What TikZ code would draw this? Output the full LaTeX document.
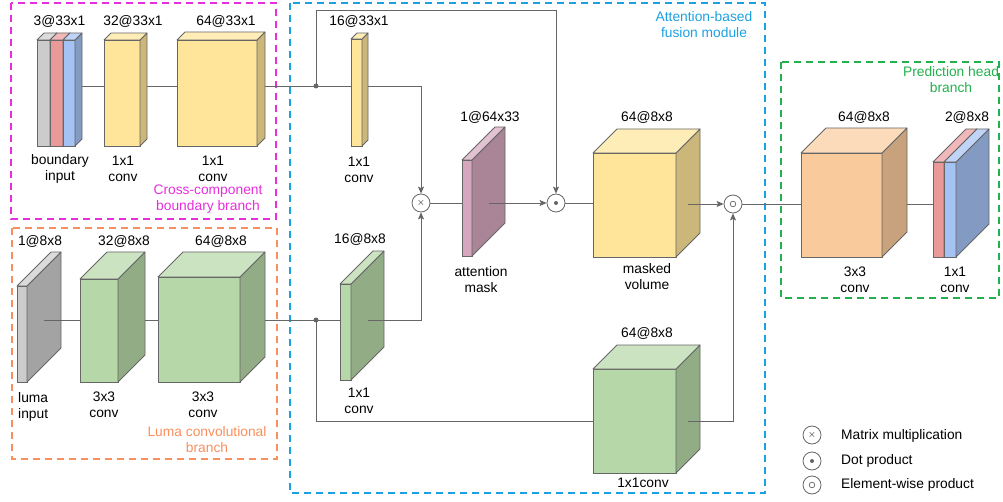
\documentclass[tikz,border=0pt]{standalone}
\usepackage{fontspec}
\setmainfont{Liberation Sans}
\usetikzlibrary{calc,arrows.meta}

\definecolor{edgegray}{HTML}{666666}
\definecolor{cubeyellow}{HTML}{FFE599}
\definecolor{cubegreen}{HTML}{B6D7A8}
\definecolor{cubegray}{HTML}{CCCCCC}
\definecolor{cubered}{HTML}{EA9999}
\definecolor{cubeblue}{HTML}{A4C2F4}
\definecolor{cubepink}{HTML}{D5A6BD}
\definecolor{cubeorange}{HTML}{F9CB9C}
\definecolor{boxmagenta}{HTML}{E62EDC}
\definecolor{boxorange}{HTML}{F98F5E}
\definecolor{boxblue}{HTML}{1BA1E2}
\definecolor{boxgreen}{HTML}{22B14C}

\newcommand{\cuboid}[7]{%
  \node[front, fill=#7, minimum width=#4pt, minimum height=#5pt] (#1) at (#2,#3) {};
  \filldraw[face, fill=#7!80!black] (#1.north east) -- ++(#6,-#6) -- ++(0,#5) -- (#1.south east) -- cycle;
  \filldraw[face, fill=#7!70!white] (#1.north west) -- ++(#6,-#6) -- ++(#4,0) -- (#1.north east) -- cycle;
  \coordinate (#1-side) at ($(#1.east)+(#6/2,0)$);
  \coordinate (#1-back) at ($(#1.east)+(#6,0)$);
}

\begin{document}
\begin{tikzpicture}[x=1pt, y=-1pt, font=\fontsize{13.8}{16}\selectfont,
  front/.style={draw=edgegray, line width=0.8pt, anchor=north west, inner sep=0pt, outer sep=0pt},
  face/.style={draw=edgegray, line width=0.8pt, line join=round},
  link/.style={draw=edgegray, line width=0.8pt},
  arrow/.style={link, -{Stealth[length=7pt, width=6pt, inset=1.5pt]}},
  op/.style={circle, draw=edgegray, line width=0.8pt, fill=white, minimum size=18pt, inner sep=0pt},
  dotop/.style={op, path picture={\fill[edgegray] (path picture bounding box.center) circle (2pt);}},
  ewop/.style={op, path picture={\draw[edgegray, line width=0.7pt] (path picture bounding box.center) circle (2.8pt);}},
  group/.style={line width=1.6pt, dash pattern=on 7pt off 5pt},
  txt/.style={align=center, inner sep=0pt}]
  \useasboundingbox (0,0) rectangle (1003,502);

  \draw[group, boxmagenta] (11,3) rectangle (276,219);
  \draw[group, boxorange] (12,228) rectangle (277,459);
  \draw[group, boxblue] (290,3) rectangle (765,493);
  \draw[group, boxgreen] (781,62) rectangle (999,298);

  \cuboid{bin1}{37}{40}{13}{106}{7}{cubegray}
  \cuboid{bin2}{50}{40}{13}{106}{7}{cubered}
  \cuboid{bin3}{63}{40}{12}{106}{7}{cubeblue}
  \cuboid{c32t}{104}{40}{36}{106}{7}{cubeyellow}
  \cuboid{c64t}{177}{40}{80}{106}{8}{cubeyellow}
  \cuboid{c16t}{351}{39}{11}{107}{6}{cubeyellow}

  \cuboid{lin}{17}{286}{10}{96}{34}{cubegray}
  \cuboid{c32b}{80}{279}{38}{103}{27}{cubegreen}
  \cuboid{c64b}{158}{277}{82}{105}{25}{cubegreen}
  \cuboid{c16b}{340}{284}{11}{96}{33}{cubegreen}

  \cuboid{att}{462}{160}{10}{96}{33}{cubepink}
  \cuboid{mvol}{593}{153}{83}{104}{24}{cubeyellow}
  \cuboid{c1x1}{593}{369}{83}{104}{24}{cubegreen}
  \cuboid{c33}{801}{153}{81}{104}{25}{cubeorange}
  \cuboid{out1}{933}{162}{11}{95}{33}{cubered}
  \cuboid{out2}{944}{162}{12}{95}{33}{cubeblue}

  \node[op] (mul) at (421,203) {\fontsize{10}{10}\selectfont$\times$};
  \node[dotop] (dot) at (556,203) {};
  \node[ewop] (ew) at (733,204) {};

  \coordinate (jtop) at (316,86);
  \coordinate (jbot) at (316,320);
  \coordinate (ttop) at (316,10);
  \coordinate (tlow) at (316,421);

  \draw[link] (bin3-back |- jtop) -- (c32t.west |- jtop);
  \draw[link] (c32t-back |- jtop) -- (c64t.west |- jtop);
  \draw[link] (c64t-back |- jtop) -- (c16t.west |- jtop);
  \draw[arrow] (jtop) -- (ttop) -| (dot);
  \draw[arrow] (c16t-back |- jtop) -| (mul);
  \draw[link] (lin-side |- jbot) -- (c32b.west |- jbot);
  \draw[link] (c32b-back |- jbot) -- (c64b.west |- jbot);
  \draw[link] (c64b-back |- jbot) -- (c16b.west |- jbot);
  \draw[arrow] (c16b-side |- jbot) -| (mul);
  \draw[link] (jbot) -- (tlow) -- (c1x1.west |- tlow);
  \draw[arrow] (c1x1-side |- tlow) -| (ew);
  \draw[link] (mul) -- (att.west |- mul);
  \draw[arrow] (att-side |- mul) -- (dot);
  \draw[link] (dot) -- (mvol.west |- dot);
  \draw[arrow] (mvol-side |- ew) -- (ew);
  \draw[link] (ew) -- (c33.west |- ew);
  \draw[link] (c33-back |- ew) -- (out1.west |- ew);
  \fill[edgegray] (jtop) circle (2.5pt);
  \fill[edgegray] (jbot) circle (2.5pt);

  \node[txt] (t1) at (59.5,21) {3@33x1};
  \node[txt] (t2) at (133,21) {32@33x1};
  \node[txt] (t3) at (226,21) {64@33x1};
  \node[txt] (t4) at (60,169) {boundary\\input};
  \node[txt] (t5) at (123,169) {1x1\\conv};
  \node[txt] (t6) at (213,169) {1x1\\conv};
  \node[txt, boxmagenta] (t7) at (208,199) {Cross-component\\boundary branch};
  \node[txt] (t8) at (40,241) {1@8x8};
  \node[txt] (t9) at (124,241) {32@8x8};
  \node[txt] (t10) at (221,241) {64@8x8};
  \node[txt, align=left, anchor=west] (t11) at (18,407) {luma\\input};
  \node[txt] (t12) at (104,405) {3x3\\conv};
  \node[txt] (t13) at (203,405) {3x3\\conv};
  \node[txt, boxorange] (t14) at (207,439.5) {Luma convolutional\\branch};
  \node[txt] (t15) at (359,21) {16@33x1};
  \node[txt] (t16) at (359,170) {1x1\\conv};
  \node[txt] (t17) at (360,239) {16@8x8};
  \node[txt] (t18) at (359,401) {1x1\\conv};
  \node[txt] (t19) at (490,117) {1@64x33};
  \node[txt] (t20) at (481,279.5) {attention\\mask};
  \node[txt] (t21) at (647,117) {64@8x8};
  \node[txt] (t22) at (647,276.5) {masked\\volume};
  \node[txt, boxblue] (t23) at (704,25) {Attention-based\\fusion module};
  \node[txt] (t24) at (647,333) {64@8x8};
  \node[txt] (t25) at (643,483) {1x1conv};
  \node[txt, boxgreen] (t26) at (951,80) {Prediction head\\branch};
  \node[txt] (t27) at (864,117) {64@8x8};
  \node[txt] (t28) at (967,117) {2@8x8};
  \node[txt] (t29) at (855,279.5) {3x3\\conv};
  \node[txt] (t30) at (955,279.5) {1x1\\conv};

  \node[op] (lmul) at (812,435) {\fontsize{10}{10}\selectfont$\times$};
  \node[dotop] (ldot) at (812,461) {};
  \node[ewop] (lew) at (812,485) {};
  \node[txt, anchor=west] (l1) at (841,436) {Matrix multiplication};
  \node[txt, anchor=west] (l2) at (841,461) {Dot product};
  \node[txt, anchor=west] (l3) at (841,485) {Element-wise product};
\end{tikzpicture}
\end{document}
